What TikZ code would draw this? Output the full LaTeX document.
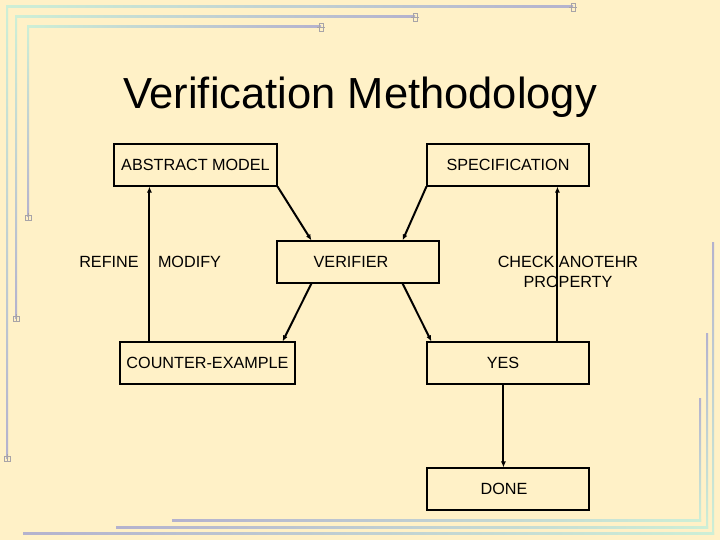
\documentclass[tikz,border=0pt]{standalone}
\usepackage{fontspec}
\setmainfont{Liberation Sans}
\usetikzlibrary{calc,arrows.meta}
\definecolor{bg}{HTML}{FFF1C7}
\definecolor{mint}{HTML}{CDEFD6}
\definecolor{lav}{HTML}{B4B2CE}
\definecolor{glyph}{HTML}{A8A4A8}
\tikzset{
  box/.style={draw=black,line width=1.1pt,minimum width=162pt,minimum height=42pt,inner sep=0pt,font=\fontsize{16.2}{18}\selectfont},
  lbl/.style={inner sep=0pt,font=\fontsize{16.2}{20}\selectfont,align=center},
  arr/.style={line width=2pt,-{Latex[length=6pt,width=5pt]}},
  hl/.style={left color=mint,right color=lav,draw=none},
  hr/.style={left color=lav,right color=mint,draw=none},
  vt/.style={top color=mint,bottom color=lav,draw=none},
  vb/.style={top color=lav,bottom color=mint,draw=none},
  gl/.style={draw=glyph,line width=0.6pt}
}
\begin{document}
\begin{tikzpicture}[x=1pt,y=-1pt]
\fill[bg] (0,0) rectangle (720,540);
\useasboundingbox (0,0) rectangle (720,540);
% top-left decorative lines
\shade[hl] (6,6) rectangle (573,8);
\shade[hl] (15,16) rectangle (415,18);
\shade[hl] (27,26) rectangle (321,28);
\shade[vt] (6,6) rectangle (8,458);
\shade[vt] (15,16) rectangle (17,318);
\shade[vt] (27,26) rectangle (29,217);
\foreach \x/\y in {573/7,415/17,321/27}{\draw[gl] (\x-2,\y-4) rectangle (\x+2,\y+4); \draw[gl] (\x-4,\y) -- (\x+4,\y);}
\foreach \x/\y in {7/458,16/318,28/217}{\draw[gl] (\x-3,\y-2) rectangle (\x+3,\y+3); \draw[gl] (\x,\y-4) -- (\x,\y+4);}
% bottom-right decorative lines
\shade[hr] (23,532) rectangle (714,534);
\shade[hr] (116,526) rectangle (708,528);
\shade[hr] (172,519) rectangle (701,521);
\shade[vb] (712,242) rectangle (714,534);
\shade[vb] (706,333) rectangle (708,528);
\shade[vb] (699,398) rectangle (701,521);
% title
\node[inner sep=0pt,font=\fontsize{43.5}{50}\selectfont] (title) at (360,97) {Verification Methodology};
% boxes
\node[box,minimum width=163pt] (abs) at (195.5,165) {ABSTRACT MODEL};
\node[box] (spec) at (508,165) {SPECIFICATION};
\node[box] (ver) at (358,262) {VERIFIER\kern14pt};
\node[box,minimum width=175pt] (ce) at (207.5,363) {COUNTER-EXAMPLE};
\node[box] (yes) at (508,363) {YES\kern10pt};
\node[box] (done) at (508,489) {DONE\kern8pt};
% labels
\node[lbl] (refine) at (109,262) {REFINE};
\node[lbl] (modify) at (189.5,262) {MODIFY};
\node[lbl] (check) at (568,272) {CHECK ANOTEHR\\PROPERTY};
% arrows
\draw[arr] (abs.south east) -- ($(ver.north west)+(35,0)$);
\draw[arr] (spec.south west) -- ($(ver.north east)+(-37,0)$);
\draw[arr] ($(ver.south west)+(35,0)$) -- ($(ce.north east)+(-13,0)$);
\draw[arr] ($(ver.south east)+(-37,0)$) -- ($(yes.north west)+(5,0)$);
\draw[arr] ($(ce.north west)+(30,0)$) -- ($(abs.south west)+(36,0)$);
\draw[arr] ($(yes.north west)+(131,0)$) -- ($(spec.south west)+(131,0)$);
\draw[arr] ($(yes.south west)+(77,0)$) -- ($(done.north west)+(77,0)$);
\end{tikzpicture}
\end{document}
